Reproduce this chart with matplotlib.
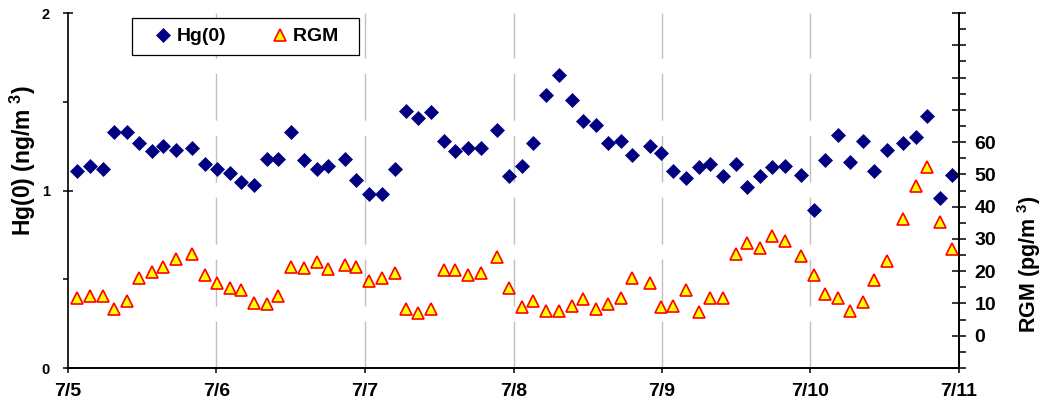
import matplotlib
matplotlib.use('Agg')
import matplotlib.pyplot as plt
from matplotlib.ticker import MultipleLocator, FuncFormatter
from matplotlib.lines import Line2D

plt.rcParams['font.family'] = ['Liberation Sans', 'DejaVu Sans']
plt.rcParams['font.weight'] = 'bold'
plt.rcParams['mathtext.fontset'] = 'custom'
plt.rcParams['mathtext.rm'] = 'Liberation Sans:bold'
plt.rcParams['mathtext.bf'] = 'Liberation Sans:bold'
plt.rcParams['mathtext.default'] = 'bf'
plt.rcParams['lines.scale_dashes'] = False

# ---- data (hours since 7/5 00:00) ----
hours = [1.5, 3.5, 5.6, 7.4, 9.5, 11.5, 13.6, 15.4, 17.4, 20.0,
         22.1, 24.1, 26.2, 28.0, 30.1, 32.1, 34.0, 36.0, 38.1, 40.2,
         42.0, 44.8, 46.6, 48.6, 50.7, 52.8, 54.6, 56.6, 58.7, 60.7,
         62.6, 64.6, 66.7, 69.3, 71.3, 73.3, 75.2, 77.3, 79.4, 81.4,
         83.2, 85.3, 87.2, 89.3, 91.2, 94.0, 95.8, 97.8, 99.9, 101.9,
         103.8, 105.8, 107.9, 109.7, 111.8, 113.8, 115.9, 118.5, 120.6, 122.4,
         124.4, 126.4, 128.5, 130.3, 132.4, 134.9, 137.0, 138.8, 140.9, 142.9]
hg = [1.11, 1.14, 1.12, 1.33, 1.33, 1.27, 1.22, 1.25, 1.23, 1.24,
      1.15, 1.12, 1.10, 1.05, 1.03, 1.18, 1.18, 1.33, 1.17, 1.12,
      1.14, 1.18, 1.06, 0.98, 0.98, 1.12, 1.45, 1.41, 1.44, 1.28,
      1.22, 1.24, 1.24, 1.34, 1.08, 1.14, 1.27, 1.54, 1.65, 1.51,
      1.39, 1.37, 1.27, 1.28, 1.20, 1.25, 1.21, 1.11, 1.07, 1.13,
      1.15, 1.08, 1.15, 1.02, 1.08, 1.13, 1.14, 1.09, 0.89, 1.17,
      1.31, 1.16, 1.28, 1.11, 1.23, 1.27, 1.30, 1.42, 0.96, 1.09]
rgm = [11.8, 12.3, 12.3, 8.3, 10.8, 17.8, 19.8, 21.4, 23.8, 25.3,
       18.8, 16.3, 14.8, 14.3, 10.2, 9.8, 12.3, 21.4, 21.1, 22.9,
       20.8, 21.9, 21.3, 16.9, 17.8, 19.4, 8.3, 6.9, 8.3, 20.3,
       20.3, 18.8, 19.4, 24.3, 14.8, 8.9, 10.8, 7.8, 7.8, 9.3,
       11.4, 8.3, 9.8, 11.8, 17.8, 16.3, 8.9, 9.3, 14.3, 7.3,
       11.8, 11.8, 25.3, 28.8, 27.3, 30.8, 29.3, 24.8, 18.8, 12.8,
       11.8, 7.8, 10.3, 17.3, 23.3, 36.3, 46.3, 52.3, 35.3, 26.8]
day_labels = ['7/5', '7/6', '7/7', '7/8', '7/9', '7/10', '7/11']

navy = '#000080'
W, H = 1045, 412
fig = plt.figure(figsize=(W / 100, H / 100), dpi=100)
L, R, T, B = 68, 959, 13, 368
ax = fig.add_axes([L / W, 1 - B / H, (R - L) / W, (B - T) / H])
ax2 = ax.twinx()

# grid lines
for d in range(1, 6):
    ax.axvline(d * 24, color='#c0c0c0', lw=1.0, dashes=(33.8, 10.8), zorder=0)

ax.plot(hours, hg, linestyle='none', marker='D', ms=7.6, mfc=navy, mec=navy,
        mew=0.5, zorder=3)
ax2.plot(hours, rgm, linestyle='none', marker='^', ms=9.0, mfc='#ffff00',
         mec='#ff0000', mew=1.2, zorder=3)

ax.set_xlim(0, 144)
ax.set_ylim(0, 2)
ax2.set_ylim(-10, 100)

ax.set_xticks([i * 24 for i in range(len(day_labels))])
ax.set_xticklabels(day_labels)
ax.yaxis.set_major_locator(MultipleLocator(1))
ax.yaxis.set_minor_locator(MultipleLocator(0.5))
ax2.yaxis.set_major_locator(MultipleLocator(10))
ax2.yaxis.set_minor_locator(MultipleLocator(5))
ax2.yaxis.set_major_formatter(FuncFormatter(
    lambda v, p: f'{v:.0f}' if -0.5 <= v <= 60.5 else ''))

for a in (ax, ax2):
    for s in a.spines.values():
        s.set_linewidth(1.2)
    a.spines['top'].set_visible(False)

ax.tick_params(axis='x', direction='out', length=3.6, width=1.1,
               labelsize=14, pad=7.5)
ax.tick_params(axis='y', which='major', direction='inout', length=7.2,
               width=1.1, labelsize=10.5, pad=9.4)
ax.tick_params(axis='y', which='minor', direction='out', length=3.6, width=1.1)
ax2.tick_params(axis='y', which='major', direction='inout', length=9.4,
                width=1.1, labelsize=14, pad=6.5)
ax2.tick_params(axis='y', which='minor', direction='out', length=5, width=1.1)
ax2.spines['left'].set_visible(False)

ax.set_ylabel(r'Hg(0) (ng/m$^{\ 3}$)', fontsize=16.5, fontweight='bold')
ax.yaxis.set_label_coords((38 - L) / (R - L), (B - 161) / (B - T))
ax2.set_ylabel(r'RGM (pg/m$^{\ 3}$)', fontsize=15.5, fontweight='bold')
ax2.yaxis.set_label_coords((1015 - L) / (R - L), (B - 264) / (B - T))

handles = [Line2D([], [], linestyle='none', marker='D', ms=7.0, mfc=navy,
                  mec=navy, mew=0.5),
           Line2D([], [], linestyle='none', marker='^', ms=9.0, mfc='#ffff00',
                  mec='#ff0000', mew=1.2)]
leg = ax2.legend(handles, ['Hg(0)', 'RGM  '], ncol=2, loc='upper left',
                 bbox_to_anchor=(132 / W, 1 - 18 / H),
                 bbox_transform=fig.transFigure, borderaxespad=0,
                 frameon=True, fancybox=False, framealpha=1,
                 edgecolor='black', prop={'size': 14, 'weight': 'bold'},
                 borderpad=0.5, handlelength=2.2, handletextpad=-0.4,
                 columnspacing=1.65)
leg.get_frame().set_linewidth(0.9)

fig.savefig('out.png', dpi=100)
